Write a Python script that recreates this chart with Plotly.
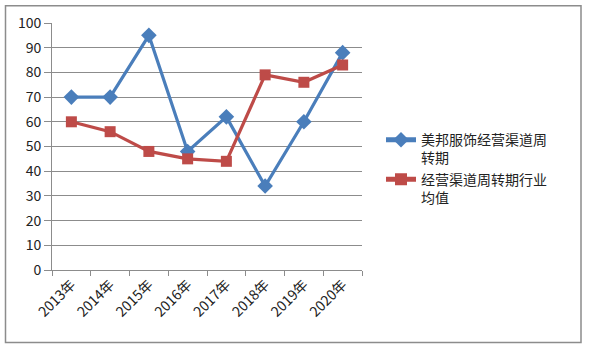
import plotly.graph_objects as go

years = ["2013年", "2014年", "2015年", "2016年", "2017年", "2018年", "2019年", "2020年"]
meibang = [70, 70, 95, 48, 62, 34, 60, 88]
industry = [60, 56, 48, 45, 44, 79, 76, 83]
name1 = "美邦服饰经营渠道周<br>转期"
name2 = "经营渠道周转期行业<br>均值"

font = "Noto Sans CJK SC, Microsoft YaHei, sans-serif"

fig = go.Figure()
fig.add_trace(go.Scatter(
    x=years, y=meibang, name=name1, mode="lines+markers",
    line=dict(color="#4A7EBB", width=3.2),
    marker=dict(symbol="diamond", size=12, color="#4A7EBB"),
))
fig.add_trace(go.Scatter(
    x=years, y=industry, name=name2, mode="lines+markers",
    line=dict(color="#BE4B48", width=3.2),
    marker=dict(symbol="square", size=11, color="#BE4B48"),
))

L, R, T, B = 52, 243, 21, 84
W, H = 605, 354
pw, ph = W - L - R, H - T - B

def px(x):
    return (x - L) / pw

def py(y):
    return (H - B - y) / ph

fig.add_shape(type="rect", xref="paper", yref="paper",
              x0=px(5.5), x1=px(581), y0=py(343), y1=py(3.5),
              line=dict(color="#8C8C8C", width=1.5), layer="below")

fig.update_layout(
    width=W, height=H,
    margin=dict(l=L, r=R, t=T, b=B),
    paper_bgcolor="white", plot_bgcolor="white",
    font=dict(family=font, size=13, color="#222"),
    showlegend=True,
    legend=dict(x=px(381), y=py(123), xanchor="left", yanchor="top",
                font=dict(size=14, color="#222"), valign="top",
                tracegroupgap=6, bgcolor="rgba(0,0,0,0)", itemsizing="constant"),
    xaxis=dict(
        type="category", tickson="boundaries", tickangle=-45,
        showline=True, linecolor="#8C8C8C", linewidth=1,
        ticks="outside", ticklen=5, tickcolor="#8C8C8C",
        showgrid=False, tickfont=dict(size=14),
        range=[-0.5, 7.5], fixedrange=True,
    ),
    yaxis=dict(
        range=[0, 100], dtick=10, tickvals=list(range(0, 101, 10)),
        showline=True, linecolor="#8C8C8C", linewidth=1,
        ticks="outside", ticklen=7, tickcolor="#8C8C8C",
        showgrid=True, gridcolor="#8C8C8C", gridwidth=1,
        zeroline=False, tickfont=dict(size=14), fixedrange=True,
    ),
)

fig.write_html("out.html")
